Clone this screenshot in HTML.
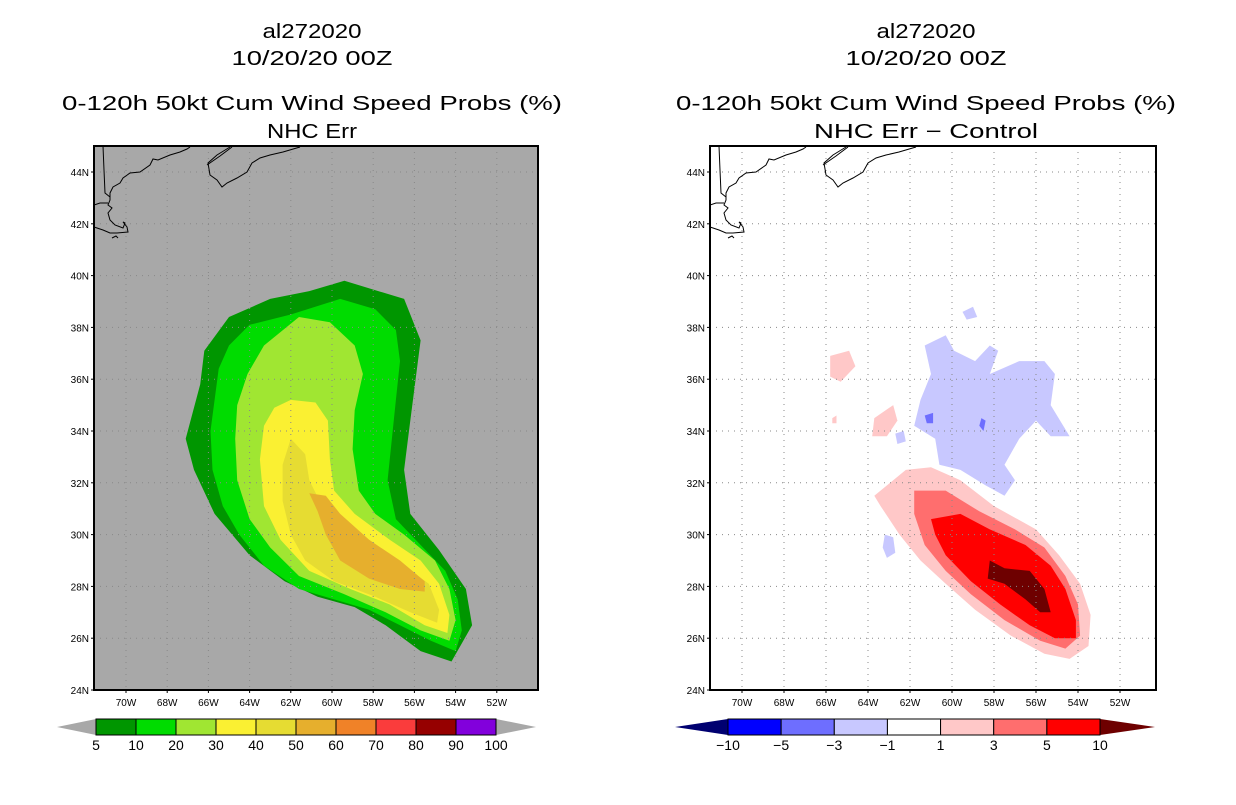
<!DOCTYPE html>
<html><head><meta charset="utf-8"><style>
body{margin:0;background:#fff;width:1236px;height:800px;overflow:hidden}
svg text{font-family:"Liberation Sans",sans-serif}
</style></head><body>
<svg id="s" width="1236" height="800" xmlns="http://www.w3.org/2000/svg"></svg>
<script>
// ---- data (lon, lat in degrees) ----
const lonTicks=[-70,-68,-66,-64,-62,-60,-58,-56,-54,-52];
const latTicks=[24,26,28,30,32,34,36,38,40,42,44];
const probLevels=["5","10","20","30","40","50","60","70","80","90","100"];
const probColors=["#009600","#00dc00","#a0e632","#faf032","#e6dc32","#e6af2d","#f08228","#fa3c3c","#960000","#8200dc"];
const diffLevels=["-10","-5","-3","-1","1","3","5","10"];
const diffColors=["#0000ff","#6e6eff","#c8c8ff","#ffffff","#ffc8c8","#ff6e6e","#ff0000"];
const prob5=[[-59.4,39.8],[-56.5,39.1],[-55.7,37.5],[-56.2,34.4],[-56.5,32.5],[-56.2,30.8],[-54.8,29.4],[-53.5,27.9],[-53.2,26.5],[-54.2,25.1],[-55.7,25.5],[-57.4,26.5],[-58.9,27.2],[-60.7,27.6],[-62.3,28.2],[-64.0,29.2],[-65.7,30.8],[-66.7,32.5],[-67.1,33.7],[-66.4,35.8],[-66.2,37.1],[-65.0,38.4],[-63.0,39.1],[-61.1,39.4]];
const prob10=[[-59.6,39.1],[-57.9,38.7],[-56.9,37.9],[-56.7,36.7],[-56.9,35.2],[-57.3,32.1],[-56.9,30.6],[-55.7,29.6],[-54.5,28.6],[-53.9,27.5],[-53.7,26.3],[-54.0,25.5],[-55.2,25.9],[-56.7,26.5],[-58.2,27.1],[-59.9,27.5],[-61.6,27.9],[-63.3,28.8],[-64.5,30.0],[-65.3,31.1],[-65.8,32.5],[-65.9,34.0],[-65.5,36.4],[-65.0,37.3],[-64.0,38.1],[-62.0,38.5]];
const prob20=[[-61.6,38.4],[-60.1,38.2],[-58.9,37.3],[-58.5,36.2],[-58.9,34.8],[-59.0,33.3],[-58.7,31.7],[-57.9,30.8],[-56.5,30.0],[-55.0,29.0],[-54.3,27.9],[-54.0,26.7],[-54.3,25.9],[-55.7,26.3],[-57.4,27.0],[-59.4,27.7],[-61.6,28.4],[-63.0,29.5],[-64.0,30.6],[-64.6,32.1],[-64.7,33.7],[-64.6,35.0],[-64.1,36.2],[-63.3,37.3]];
const prob30=[[-62.0,35.2],[-60.8,35.1],[-60.2,34.4],[-60.1,32.9],[-59.9,31.7],[-58.9,30.8],[-57.2,29.8],[-55.7,29.0],[-54.8,28.1],[-54.3,26.9],[-54.4,26.2],[-55.5,26.5],[-57.2,27.3],[-59.1,27.9],[-61.1,28.6],[-62.5,29.8],[-63.3,31.1],[-63.5,32.9],[-63.3,34.2],[-62.8,34.9]];
const prob40=[[-62.0,33.7],[-61.3,33.1],[-61.1,32.1],[-60.6,31.3],[-59.4,30.6],[-57.9,29.6],[-56.5,28.8],[-55.3,28.1],[-54.8,27.1],[-54.9,26.6],[-56.2,27.0],[-57.9,27.6],[-59.9,28.2],[-61.3,29.0],[-62.0,30.0],[-62.4,31.3],[-62.4,32.7]];
const prob50=[[-61.1,31.6],[-60.3,31.5],[-59.6,30.8],[-58.2,29.8],[-56.7,29.0],[-55.5,28.2],[-55.5,27.8],[-56.7,27.9],[-58.2,28.3],[-59.6,29.0],[-60.3,30.0],[-60.7,30.9]];
const diffNeg1=[[-61.3,37.3],[-60.3,37.7],[-59.9,37.1],[-58.9,36.7],[-58.2,37.3],[-57.8,37.1],[-58.2,36.2],[-56.8,36.7],[-55.6,36.7],[-55.1,36.2],[-55.3,35.0],[-54.4,33.8],[-55.3,33.8],[-56.0,34.4],[-56.8,33.7],[-57.5,32.7],[-57.0,32.1],[-57.5,31.5],[-58.4,31.9],[-59.6,32.5],[-60.6,32.7],[-60.8,33.7],[-61.8,34.2],[-61.5,35.2],[-61.0,36.2]];
const diffNeg1b=[[-59.5,38.6],[-59.0,38.8],[-58.8,38.4],[-59.3,38.3]];
const diffNeg1c=[[-63.2,30.0],[-62.8,29.9],[-62.7,29.3],[-63.1,29.1],[-63.3,29.5]];
const diffNeg1d=[[-62.7,33.9],[-62.3,34.0],[-62.2,33.6],[-62.6,33.5]];
const diffNeg3a=[[-61.3,34.6],[-60.9,34.7],[-60.9,34.3],[-61.2,34.3]];
const diffNeg3b=[[-58.6,34.5],[-58.4,34.4],[-58.5,34.0],[-58.7,34.2]];
const diffPos1=[[-63.7,31.5],[-62.2,32.5],[-61.0,32.6],[-59.6,32.1],[-58.0,31.1],[-56.0,30.2],[-54.9,29.2],[-53.9,28.1],[-53.4,26.9],[-53.5,25.7],[-54.4,25.2],[-55.6,25.4],[-57.2,26.1],[-58.9,27.1],[-60.3,28.1],[-61.5,29.0],[-62.5,30.0],[-63.4,31.1]];
const diffPos1b=[[-65.8,36.9],[-64.9,37.1],[-64.6,36.5],[-65.3,35.9],[-65.8,36.1]];
const diffPos1c=[[-63.7,34.5],[-62.8,35.0],[-62.6,34.4],[-63.1,33.8],[-63.8,33.8]];
const diffPos1d=[[-65.7,34.5],[-65.5,34.6],[-65.5,34.3],[-65.7,34.3]];
const diffPos3=[[-61.8,31.7],[-60.3,31.7],[-58.7,30.9],[-57.0,30.2],[-55.6,29.5],[-54.6,28.4],[-54.0,27.3],[-53.9,26.1],[-54.6,25.6],[-55.8,25.9],[-57.5,26.7],[-59.1,27.7],[-60.3,28.6],[-61.3,29.6],[-61.8,30.8]];
const diffPos5=[[-61.0,30.6],[-59.6,30.8],[-58.2,30.2],[-56.5,29.6],[-55.3,28.8],[-54.6,27.9],[-54.1,26.7],[-54.1,26.0],[-55.1,26.0],[-56.3,26.5],[-57.7,27.3],[-59.1,28.2],[-60.3,29.2],[-60.8,30.0]];
const diffPos10=[[-58.2,29.0],[-57.5,28.7],[-56.3,28.6],[-55.6,27.9],[-55.3,27.0],[-55.8,27.0],[-56.5,27.5],[-57.5,28.1],[-58.3,28.3]];

const S=document.getElementById('s');const NS='http://www.w3.org/2000/svg';
function mk(t,a,p){const e=document.createElementNS(NS,t);for(const k in a)e.setAttribute(k,a[k]);(p||S).appendChild(e);return e;}
function panel(x0,x1,bg,idx){
  const y0=146,y1=690;
  const lon70=x0+32, pxd=(idx?21:20.6);
  const X=l=>lon70+(l+70)*pxd, Y=la=>690-(la-24)*25.9;
  const g=mk('g',{});
  const cid='clip'+idx;const cp=mk('clipPath',{id:cid},g);mk('rect',{x:x0,y:y0,width:x1-x0,height:y1-y0},cp);
  mk('rect',{x:x0,y:y0,width:x1-x0,height:y1-y0,fill:bg},g);
  const inner=mk('g',{'clip-path':'url(#'+cid+')'},g);
  const poly=(pts,c,name)=>{const p=mk('polygon',{points:pts.map(q=>X(q[0]).toFixed(1)+','+Y(q[1]).toFixed(1)).join(' '),fill:c},inner);
    };
  if(!idx){
    poly(prob5,probColors[0],'contour-5');poly(prob10,probColors[1],'contour-10');poly(prob20,probColors[2],'contour-20');
    poly(prob30,probColors[3],'contour-30');poly(prob40,probColors[4],'contour-40');poly(prob50,probColors[5],'contour-50');
  }else{
    [diffNeg1,diffNeg1b,diffNeg1c,diffNeg1d].forEach(p=>poly(p,diffColors[2],'contour-neg1'));
    [diffNeg3a,diffNeg3b].forEach(p=>poly(p,diffColors[1],'contour-neg3'));
    [diffPos1,diffPos1b,diffPos1c,diffPos1d].forEach(p=>poly(p,diffColors[4],'contour-pos1'));
    poly(diffPos3,diffColors[5],'contour-pos3');poly(diffPos5,diffColors[6],'contour-pos5');poly(diffPos10,'#6e0000','contour-pos10');
  }
  lonTicks.forEach(l=>mk('line',{x1:X(l),x2:X(l),y1:y0,y2:y1,stroke:'#888','stroke-width':1,'stroke-dasharray':'1,5'},inner));
  latTicks.forEach(l=>mk('line',{x1:x0,x2:x1,y1:Y(l),y2:Y(l),stroke:'#888','stroke-width':1,'stroke-dasharray':'1,5'},inner));
  const dx=x0-94;
  const cg=mk('g',{transform:'translate('+dx+',0)',fill:'none',stroke:'#000','stroke-width':1},inner);
  
  mk('polyline',{points:'190,147 187,149 180,152 170,155 158,160 153,159 150,165 140,172 130,173 123,178 120,183 113,187 110,193 110,200 108,205 112,208 108,213 110,220 115,225 123,228 125,223 123,222 127,227 128,232 117,233 110,233 103,230 97,228 94,227'},cg);
  mk('polyline',{points:'103,146 104,170 105,193 110,197'},cg);
  mk('polyline',{points:'94,205 100,203 108,203'},cg);
  mk('polyline',{points:'230,147 217,155 208,163 210,175 217,180 222,187 227,183 237,178 247,172 252,163 260,158 270,155 283,152 300,147'},cg);
  mk('polyline',{points:'207,165 220,156 232,147'},cg);
  mk('polyline',{points:'112,238 116,236 118,238'},cg);
  mk('rect',{x:x0,y:y0,width:x1-x0,height:y1-y0,fill:'none',stroke:'#000','stroke-width':2},g);
  lonTicks.forEach(l=>{mk('line',{x1:X(l),x2:X(l),y1:y1,y2:y1+3,stroke:'#000'},g);
    const t=mk('text',{x:X(l),y:706,'font-size':10,'text-anchor':'middle'},g);t.textContent=(-l)+'W';
    });
  latTicks.forEach(l=>{mk('line',{x1:x0-3,x2:x0,y1:Y(l),y2:Y(l),stroke:'#000'},g);
    const t=mk('text',{x:x0-5,y:Y(l)+4,'font-size':10,'text-anchor':'end'},g);t.textContent=l+'N';
    });
}
function titles(cx,sub,subW){
  const lines=[['al272020',38,99],['10/20/20 00Z',65,161],['0-120h 50kt Cum Wind Speed Probs (%)',110,500],[sub,138,subW]];
  lines.forEach(l=>{const t=mk('text',{x:cx,y:l[1],'font-size':20,'text-anchor':'middle',textLength:l[2],lengthAdjust:'spacingAndGlyphs'});t.textContent=l[0];
    });
}
function colorbar(xa,xb,xl,xr,cols,labels,leftC,rightC,name){
  const g=mk('g',{});
  const y0=719,y1=735,ym=727,w=(xb-xa)/cols.length;
  mk('polygon',{points:`${xl},${ym} ${xa},${y0} ${xa},${y1}`,fill:leftC},g);
  mk('polygon',{points:`${xr},${ym} ${xb},${y0} ${xb},${y1}`,fill:rightC},g);
  cols.forEach((c,i)=>mk('rect',{x:xa+i*w,y:y0,width:w,height:y1-y0,fill:c,stroke:'#000','stroke-width':1},g));
  labels.forEach((l,i)=>{const t=mk('text',{x:xa+i*w,y:750,'font-size':14,'text-anchor':'middle'},g);t.textContent=l.replace('-','\u2212');
    });
}
titles(312,'NHC Err',90);titles(926,'NHC Err \u2212 Control',224);
panel(94,538,'#a8a8a8',0);panel(710,1156,'#ffffff',1);
colorbar(96,496,57,536,probColors,probLevels,'#a8a8a8','#a8a8a8','prob-colorbar');
colorbar(728,1100,675,1155,diffColors,diffLevels,'#000070','#6e0000','diff-colorbar');
</script>
</body></html>
